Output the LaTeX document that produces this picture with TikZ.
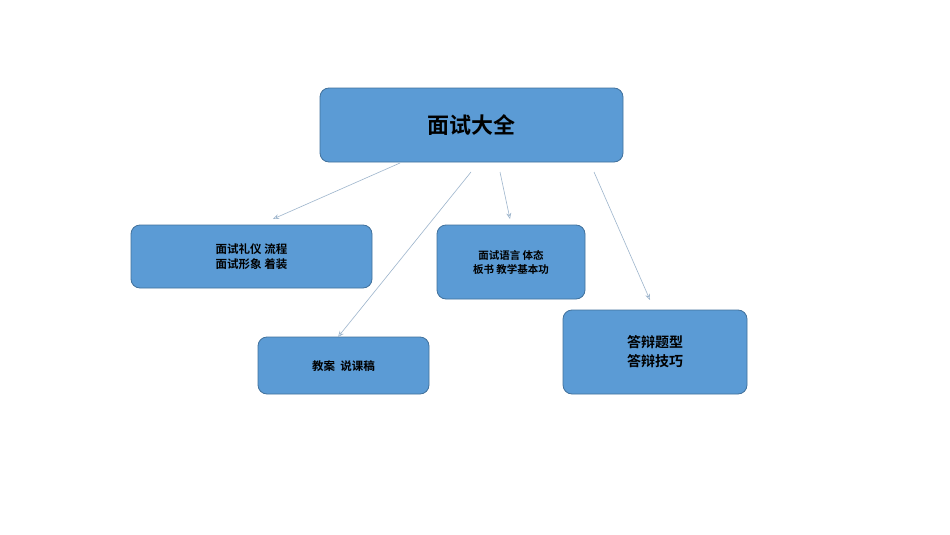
\documentclass[tikz,border=0pt]{standalone}
\usepackage{fontspec}
\newfontfamily\cjk{Noto Sans CJK SC}[BoldFont={Noto Sans CJK SC Bold}]
\usetikzlibrary{arrows.meta}
\definecolor{boxfill}{HTML}{5B9BD5}
\definecolor{boxline}{HTML}{41719C}
\definecolor{arr}{HTML}{9DB5CC}
\begin{document}
\begin{tikzpicture}[x=1pt,y=-1pt,
  box/.style={draw=boxline,fill=boxfill,rounded corners=9pt,line width=0.8pt},
  lbl/.style={font=\cjk\bfseries,align=center,text=black},
  link/.style={draw=arr,line width=0.6pt,-{Stealth[open,length=6pt,width=5pt]}}]
\useasboundingbox (0,0) rectangle (950,535);
\fill[white] (0,0) rectangle (950,535);
\draw[box] (320,88) rectangle (623,162);
\node[lbl,font=\cjk\bfseries\fontsize{22}{26}\selectfont] (top) at (471.5,125) {面试大全};
\draw[box] (131,225) rectangle (372,288);
\node[lbl,font=\cjk\bfseries\fontsize{11.5}{15}\selectfont] (b1) at (251.5,256.5) {面试礼仪 流程\\面试形象 着装};
\draw[box] (437,225) rectangle (585,299);
\node[lbl,font=\cjk\bfseries\fontsize{10.5}{14}\selectfont] (b2) at (511,262) {面试语言 体态\\板书 教学基本功};
\draw[box] (258,337) rectangle (429,394);
\node[lbl,font=\cjk\bfseries\fontsize{11.5}{15}\selectfont] (b3) at (343.5,366) {教案\ \ 说课稿};
\draw[box] (563,310) rectangle (747,394);
\node[lbl,font=\cjk\bfseries\fontsize{14}{19}\selectfont] (b4) at (655,352) {答辩题型\\答辩技巧};
\coordinate (s1) at (400,163); \coordinate (e1) at (273,219);
\coordinate (s2) at (471,172); \coordinate (e2) at (338,337);
\coordinate (s3) at (500,172); \coordinate (e3) at (510,219);
\coordinate (s4) at (594,172); \coordinate (e4) at (650,300);
\draw[link] (s1) -- (e1);
\draw[link] (s2) -- (e2);
\draw[link] (s3) -- (e3);
\draw[link] (s4) -- (e4);
\end{tikzpicture}
\end{document}
